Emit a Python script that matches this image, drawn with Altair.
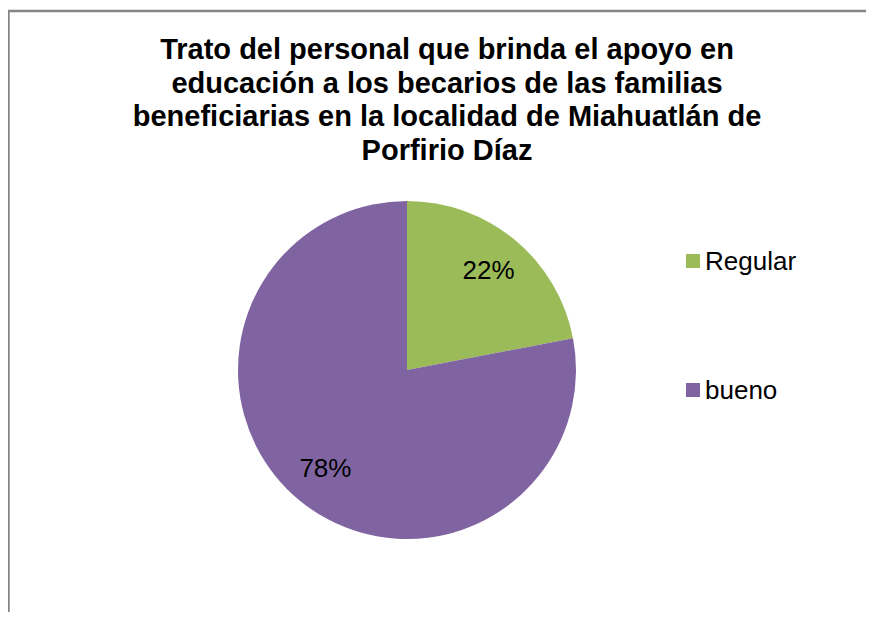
import altair as alt
import pandas as pd

categories = ["Regular", "bueno"]
values = [22, 78]
labels = ["22%", "78%"]
colors = ["#9BBB59", "#8064A2"]
title_lines = [
    "Trato del personal que brinda el apoyo en",
    "educación a los becarios de las familias",
    "beneficiarias en la localidad de Miahuatlán de",
    "Porfirio Díaz",
]

W, H = 858, 604
CX, CY, R = 399, 362, 169
TX = 439
FONT = "Liberation Sans"

df = pd.DataFrame({"cat": categories, "val": values, "lab": labels, "ord": [0, 1]})

color = alt.Color("cat:N", scale=alt.Scale(domain=categories, range=colors), legend=None)

pie = alt.Chart(df).mark_arc(stroke=None).encode(
    theta=alt.Theta("val:Q", stack=True),
    order=alt.Order("ord:Q"),
    color=color,
    x=alt.value(CX), y=alt.value(CY), radius=alt.value(R),
)

pct = alt.Chart(df).mark_text(font=FONT, fontSize=26, color="#000000", radius=128).encode(
    theta=alt.Theta("val:Q", stack=True),
    order=alt.Order("ord:Q"),
    text="lab:N",
    x=alt.value(CX), y=alt.value(CY),
)

ly = alt.Y("cat:N", scale=alt.Scale(type="point", domain=categories, range=[253, 382], padding=0), axis=None)
leg_sq = alt.Chart(df).mark_square(size=196, opacity=1).encode(
    x=alt.value(685), y=ly, color=color,
)
leg_tx = alt.Chart(df).mark_text(font=FONT, fontSize=26, align="left", baseline="middle", color="#000000", dy=1).encode(
    x=alt.value(697), y=ly, text="cat:N",
)

title = alt.Chart(pd.DataFrame({"t": [title_lines]})).mark_text(
    font=FONT, fontSize=29, fontWeight="bold", align="center", baseline="alphabetic", lineHeight=33.5, color="#000000"
).encode(x=alt.value(TX), y=alt.value(51), text="t")

border_top = alt.Chart(df.head(1)).mark_rule(color="#868686", strokeWidth=2.5).encode(
    x=alt.value(0), x2=alt.value(W), y=alt.value(3)
)
border_left = alt.Chart(df.head(1)).mark_rule(color="#868686", strokeWidth=2.5).encode(
    x=alt.value(0.5), y=alt.value(3), y2=alt.value(H)
)

chart = alt.layer(border_top, border_left, title, pie, pct, leg_sq, leg_tx).properties(
    width=W, height=H, padding=0, autosize=alt.AutoSizeParams(type="none")
).configure_view(stroke=None)

chart.save("out.html", embed_options={"renderer": "svg", "actions": False})
